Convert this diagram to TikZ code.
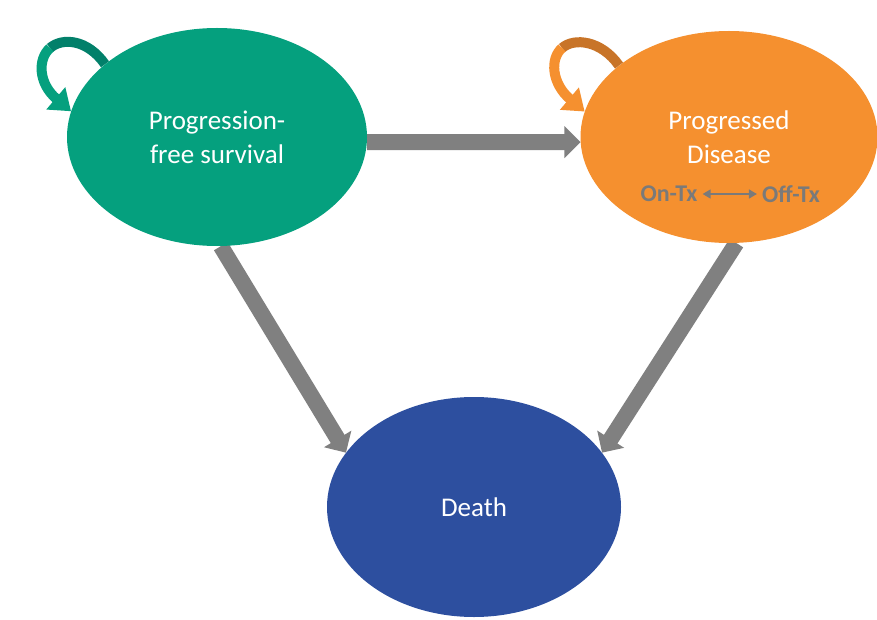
\documentclass[tikz,border=0pt]{standalone}
\usepackage{fontspec}
\setmainfont{Carlito}
\usetikzlibrary{arrows.meta,shapes.geometric,backgrounds}

\definecolor{pfsgreen}{HTML}{05A07E}
\definecolor{pfsdark}{HTML}{02806A}
\definecolor{pdorange}{HTML}{F5902F}
\definecolor{pddark}{HTML}{C87428}
\definecolor{deathblue}{HTML}{2D4F9F}
\definecolor{arrowgray}{HTML}{808080}
\definecolor{txgray}{HTML}{7A7A7A}

\begin{document}
\begin{tikzpicture}[x=1pt,y=-1pt,node distance=512pt,
    state/.style={ellipse,inner sep=0pt,text=white,align=center,
      font=\fontsize{27}{34}\selectfont},
    flow/.style={draw=arrowgray,line width=16pt,-{Triangle[length=16pt,width=31pt]}},
    selfloop/.style={line width=10pt,-{Triangle[length=20pt,width=28pt]}},
    txlabel/.style={text=txgray,inner sep=1pt,font=\bfseries\fontsize{24}{28}\selectfont}]
    \useasboundingbox (0,0) rectangle (877,620);

    \node[state,fill=pfsgreen,minimum width=300pt,minimum height=218pt] (pfs) at (217,137) {Progression-\\free survival};
    \node[state,fill=pdorange,minimum width=297pt,minimum height=212pt] (pd) [right of=pfs] {Progressed\\Disease};
    \node[state,fill=deathblue,minimum width=294pt,minimum height=220pt] (death) at (474,507) {Death};

    % treatment status inside progressed disease
    \node[txlabel] (ontx) at ([shift={(-60,57)}]pd.center) {On-Tx};
    \node[txlabel] (offtx) at ([shift={(62,57)}]pd.center) {Off-Tx};
    \draw[txgray,line width=1.5pt,shorten <=4pt,shorten >=4pt,
      {Triangle[length=8pt,width=9pt]}-{Triangle[length=8pt,width=9pt]}] (ontx) -- (offtx);

    % transitions
    \begin{scope}[on background layer]
      \fill[white] (0,0) rectangle (877,620);
      \path
        (pfs.-2) edge[flow] (pd.182)
        (pfs.-88) edge[flow] (death.157)
        (pd.-86) edge[flow] (death.23);
    \end{scope}

    % staying in the same state
    \coordinate (pfsloop) at ([shift={(-167,-89)}]pfs.center);
    \coordinate (pdloop) at ([shift={(-167,-89)}]pd.center);
    \draw[selfloop,pfsdark,-] (pfs.147) .. controls +(-17.5,-25) and +(12.4,-10.75) .. (pfsloop);
    \draw[selfloop,pfsgreen] (pfsloop) .. controls +(-12.35,10.75) and +(-33,-28) .. (pfs.170);
    \draw[selfloop,pddark,-] (pd.147) .. controls +(-17.5,-25) and +(12.4,-10.75) .. (pdloop);
    \draw[selfloop,pdorange] (pdloop) .. controls +(-12.35,10.75) and +(-33,-28) .. (pd.170);
\end{tikzpicture}
\end{document}
